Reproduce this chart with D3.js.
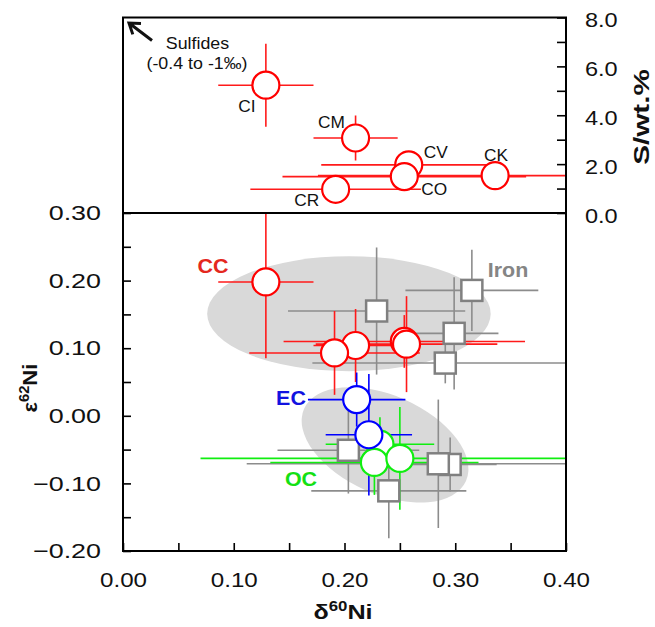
<!DOCTYPE html>
<html>
<head>
<meta charset="utf-8">
<script src="https://cdn.jsdelivr.net/npm/d3@7"></script>
<style>
body { margin: 0; background: #fff; }
text { font-family: "Liberation Sans", Arial, sans-serif; }
</style>
</head>
<body>
<svg id="chart" width="655" height="627"></svg>
<script>
// top panel: chondrite groups, d60Ni vs S wt.%
const chondNames = ["CI", "CM", "CV", "CO", "CK", "CR"];
const chondD60 = [0.129, 0.210, 0.258, 0.254, 0.336, 0.192];
const chondD60Err = [0.043, 0.038, 0.079, 0.110, 0.160, 0.077];
const chondS = [5.23, 3.07, 1.97, 1.49, 1.53, 0.97];
const chondSErr = [1.70, 0.92, 0, 0, 0, 0];

// bottom panel: carbonaceous chondrites
const ccNames = ["CI", "CM", "CO", "CV", "CR"];
const ccD60 = [0.129, 0.210, 0.254, 0.256, 0.191];
const ccD60Err = [0.043, 0.038, 0.109, 0.082, 0.077];
const ccE62 = [0.198, 0.104, 0.110, 0.106, 0.093];
const ccE62Err = [0.113, 0.054, 0.039, 0.071, 0.062];

// enstatite chondrites
const ecD60 = [0.211, 0.222];
const ecD60Err = [0.044, 0.039];
const ecE62 = [0.024, -0.028];
const ecE62Err = [0.040, 0.090];

// ordinary chondrites
const ocD60 = [0.232, 0.227, 0.250];
const ocD60Err = [0.049, 0.094, 0.180];
const ocE62 = [-0.042, -0.069, -0.063];
const ocE62Err = [0.040, 0.048, 0.076];

// iron meteorites
const ironD60 = [0.229, 0.315, 0.299, 0.291, 0.2035, 0.240, 0.2954, 0.2847];
const ironD60Err = [0.080, 0.060, 0.040, 0.120, 0.064, 0.070, 0.042, 0.173];
const ironE62 = [0.155, 0.1855, 0.122, 0.078, -0.051, -0.111, -0.072, -0.071];
const ironE62Err = [0.094, 0.060, 0.083, 0.030, 0.064, 0.070, 0.040, 0.095];

// field ellipses: [d60 centre, e62 centre, d60 radius, e62 radius, rotation deg]
const ellipseCC = [0.204, 0.151, 0.128, 0.085, 0];
const ellipseOC = [0.2366, -0.043, 0.080, 0.073, 24];

const xTicks = d3.range(0, 0.401, 0.05);
const yTicksB = d3.range(-0.2, 0.301, 0.05);
const yTicksT = d3.range(0, 8.01, 1);

const svg = d3.select('#chart');
const L = 123, R = 566, T = 17.5, MID = 213, B = 551;

const x = d3.scaleLinear().domain([0, 0.4]).range([L, R]);
const yB = d3.scaleLinear().domain([-0.2, 0.3]).range([B, MID]);
const yT = d3.scaleLinear().domain([0, 8]).range([MID, T]);

const RED = '#ff0000', BLUE = '#0000ff', GREEN = '#10ee10';

function stretch(sel, k) {
    sel.each(function () {
        const w = this.getComputedTextLength();
        d3.select(this).attr('textLength', w * k).attr('lengthAdjust', 'spacingAndGlyphs');
    });
}

const defs = svg.append('defs');
defs.append('clipPath').attr('id', 'clipT')
    .append('rect').attr('x', L).attr('y', T).attr('width', R - L).attr('height', MID - T);
defs.append('clipPath').attr('id', 'clipB')
    .append('rect').attr('x', L).attr('y', MID).attr('width', R - L).attr('height', B - MID);

const gT = svg.append('g').attr('clip-path', 'url(#clipT)');
const gB = svg.append('g').attr('clip-path', 'url(#clipB)');

// ellipses
[ellipseCC, ellipseOC].forEach(e => {
    gB.append('ellipse')
        .attr('cx', x(e[0]))
        .attr('cy', yB(e[1]))
        .attr('rx', x(e[2]) - x(0))
        .attr('ry', yB(0) - yB(e[3]))
        .attr('transform', `rotate(${e[4]},${x(e[0])},${yB(e[1])})`)
        .attr('fill', '#d9d9d9');
});

function errorBars(g, xs, xe, ys, ye, y, color) {
    const pts = xs.map((d, i) => ({ x: d, xe: xe[i], y: ys[i], ye: ye[i] }));
    const bars = g.append('g').attr('stroke', color).attr('stroke-width', 1.6);
    bars.selectAll('.h').data(pts).enter().append('line')
        .attr('x1', d => x(d.x - d.xe)).attr('x2', d => x(d.x + d.xe))
        .attr('y1', d => y(d.y)).attr('y2', d => y(d.y));
    bars.selectAll('.v').data(pts.filter(d => d.ye > 0)).enter().append('line')
        .attr('x1', d => x(d.x)).attr('x2', d => x(d.x))
        .attr('y1', d => y(d.y - d.ye)).attr('y2', d => y(d.y + d.ye));
    return pts;
}

function circles(g, pts, y, color) {
    g.append('g').selectAll('circle').data(pts).enter().append('circle')
        .attr('cx', d => x(d.x)).attr('cy', d => y(d.y)).attr('r', 13.5)
        .attr('fill', '#fff').attr('stroke', color).attr('stroke-width', 2.2);
}

// top panel
const topPts = errorBars(gT, chondD60, chondD60Err, chondS, chondSErr, yT, '#ff1a1a');
circles(gT, topPts, yT, RED);

const labelOffset = { CI: [-19, 27], CM: [-24, -10], CV: [27, -7], CK: [1, -15], CO: [30, 18], CR: [-29, 17] };
svg.append('g').selectAll('text').data(chondNames).enter().append('text')
    .attr('x', (d, i) => x(chondD60[i]) + labelOffset[d][0])
    .attr('y', (d, i) => yT(chondS[i]) + labelOffset[d][1])
    .attr('text-anchor', 'middle').attr('font-size', 16).attr('fill', '#111')
    .text(d => d)
    .call(stretch, 1.08);

// bottom panel: bars first, then markers
const ironPts = errorBars(gB, ironD60, ironD60Err, ironE62, ironE62Err, yB, '#8c8c8c');
const ccPts = errorBars(gB, ccD60, ccD60Err, ccE62, ccE62Err, yB, '#ff1a1a');
const ocPts = errorBars(gB, ocD60, ocD60Err, ocE62, ocE62Err, yB, GREEN);
const ecPts = errorBars(gB, ecD60, ecD60Err, ecE62, ecE62Err, yB, BLUE);

gB.append('g').selectAll('rect').data(ironPts).enter().append('rect')
    .attr('x', d => x(d.x) - 10.5).attr('y', d => yB(d.y) - 10.5)
    .attr('width', 21).attr('height', 21)
    .attr('fill', '#fff').attr('stroke', '#808080').attr('stroke-width', 2.5);
circles(gB, ccPts, yB, RED);
circles(gB, ocPts, yB, GREEN);
circles(gB, ecPts, yB, BLUE);

// group labels
const groupLabels = [
    { t: 'CC', x: 213, y: 273, c: '#e4281e' },
    { t: 'Iron', x: 508, y: 277, c: '#858585' },
    { t: 'EC', x: 291, y: 405, c: '#1212e0' },
    { t: 'OC', x: 301, y: 486, c: '#14e014' }
];
svg.append('g').selectAll('text').data(groupLabels).enter().append('text')
    .attr('x', d => d.x).attr('y', d => d.y)
    .attr('text-anchor', 'middle').attr('font-size', 19.5).attr('font-weight', 'bold')
    .attr('fill', d => d.c)
    .text(d => d.t)
    .call(stretch, 1.1);

// sulfides note with arrow
const ax0 = 152, ay0 = 40.5, ax1 = 129, ay1 = 23;
const ang = Math.atan2(ay1 - ay0, ax1 - ax0);
const head = 12, spread = 0.6;
svg.append('path')
    .attr('d', `M${ax0},${ay0}L${ax1},${ay1}` +
        `M${ax1 - head * Math.cos(ang - spread)},${ay1 - head * Math.sin(ang - spread)}L${ax1},${ay1}` +
        `L${ax1 - head * Math.cos(ang + spread)},${ay1 - head * Math.sin(ang + spread)}`)
    .attr('fill', 'none').attr('stroke', '#111').attr('stroke-width', 3);
svg.append('text').attr('x', 197.5).attr('y', 48.5).attr('text-anchor', 'middle')
    .attr('font-size', 16.5).attr('fill', '#111').text('Sulfides').call(stretch, 1.08);
svg.append('text').attr('x', 197).attr('y', 68.5).attr('text-anchor', 'middle')
    .attr('font-size', 16.5).attr('fill', '#111').text('(-0.4 to -1‰)').call(stretch, 1.08);

// axes
const fmt2 = d3.format('.2f');
const major = d => Math.round(d * 20) % 2 === 0;

const axL = svg.append('g').attr('transform', `translate(${L},0)`)
    .call(d3.axisLeft(yB).tickValues(yTicksB).tickSizeInner(-8).tickSizeOuter(0).tickPadding(22)
        .tickFormat(d => major(d) ? fmt2(Math.abs(d) < 1e-9 ? 0 : d) : ''));
const axX = svg.append('g').attr('transform', `translate(0,${B})`)
    .call(d3.axisBottom(x).tickValues(xTicks).tickSizeInner(-8).tickSizeOuter(0).tickPadding(21)
        .tickFormat(d => major(d) ? fmt2(d) : ''));
const axR = svg.append('g').attr('transform', `translate(${R},0)`)
    .call(d3.axisRight(yT).tickValues(yTicksT).tickSizeInner(-9).tickSizeOuter(0).tickPadding(19)
        .tickFormat(d => d % 2 === 0 ? d3.format('.1f')(d) : ''));
axR.selectAll('text').attr('dy', '0.45em');

[axL, axX, axR].forEach(a => {
    a.select('.domain').remove();
    a.selectAll('line').attr('stroke', '#000').attr('stroke-width', 1.6);
    a.selectAll('text').attr('font-size', 21).attr('fill', '#111')
        .style('font-family', '"Liberation Sans", Arial, sans-serif');
});
axL.selectAll('text').call(stretch, 1.28);
axX.selectAll('text').call(stretch, 1.15);
axR.selectAll('text').call(stretch, 1.12);

// frames
svg.append('rect').attr('x', L).attr('y', T).attr('width', R - L).attr('height', MID - T)
    .attr('fill', 'none').attr('stroke', '#000').attr('stroke-width', 2);
svg.append('rect').attr('x', L).attr('y', MID).attr('width', R - L).attr('height', B - MID)
    .attr('fill', 'none').attr('stroke', '#000').attr('stroke-width', 2);

// axis titles
const xt = svg.append('text').attr('x', 343).attr('y', 619).attr('text-anchor', 'middle')
    .attr('font-size', 21).attr('font-weight', 'bold').attr('fill', '#111');
xt.append('tspan').text('δ');
xt.append('tspan').attr('font-size', 14).attr('dy', -8).text('60');
xt.append('tspan').attr('dy', 8).text('Ni');
xt.call(stretch, 1.2);

const yt = svg.append('text').attr('transform', 'translate(37,388) rotate(-90)').attr('text-anchor', 'middle')
    .attr('font-size', 21).attr('font-weight', 'bold').attr('fill', '#111');
yt.append('tspan').text('ε');
yt.append('tspan').attr('font-size', 14).attr('dy', -8).text('62');
yt.append('tspan').attr('dy', 8).text('Ni');
yt.call(stretch, 1.05);

svg.append('text').attr('transform', 'translate(649,117) rotate(-90)').attr('text-anchor', 'middle')
    .attr('font-size', 22.5).attr('font-weight', 'bold').attr('fill', '#111')
    .text('S/wt.%').call(stretch, 1.32);
</script>
</body>
</html>
